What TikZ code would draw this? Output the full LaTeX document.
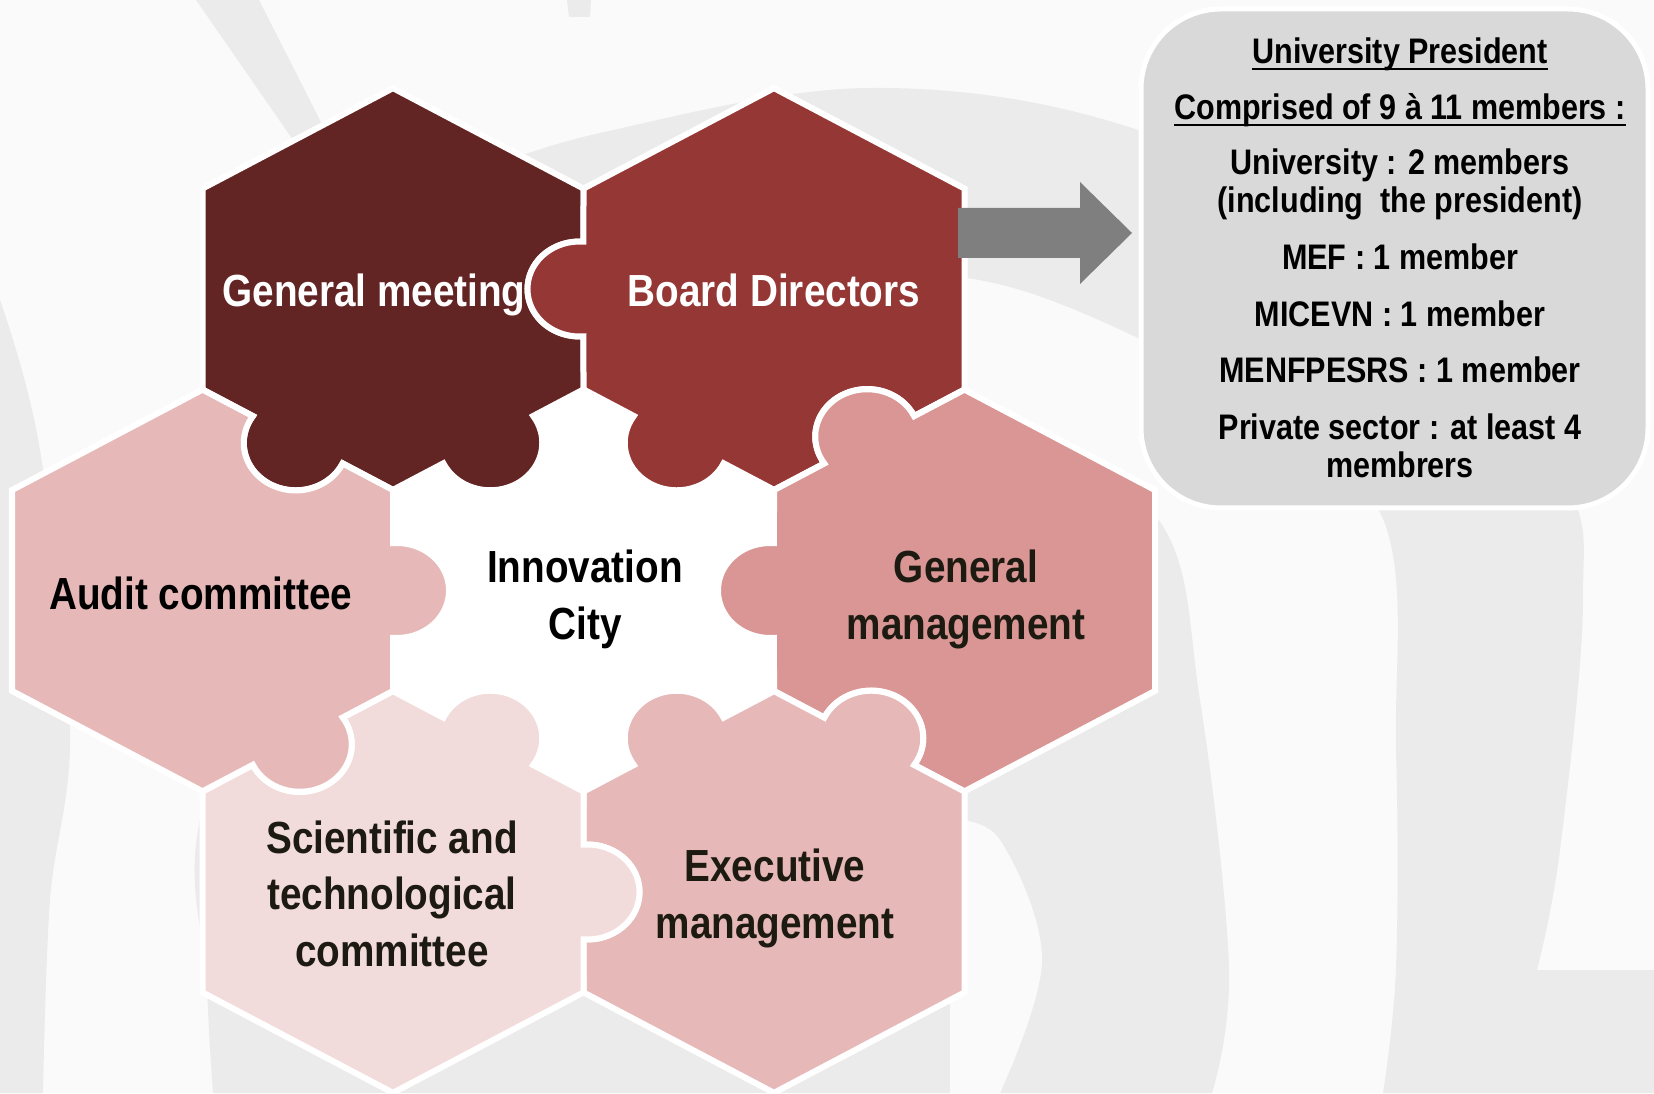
\documentclass[tikz,border=0pt]{standalone}
\usepackage{fontspec}
\setmainfont{Liberation Sans}[FakeStretch=0.86]
\definecolor{gmcol}{HTML}{632523}
\definecolor{bdcol}{HTML}{953735}
\definecolor{mgcol}{HTML}{D99694}
\definecolor{aucol}{HTML}{E6B9B8}
\definecolor{excol}{HTML}{E6B9B8}
\definecolor{sccol}{HTML}{F2DCDB}
\definecolor{boxcol}{HTML}{D9D9D9}
\definecolor{arrowcol}{HTML}{7F7F7F}
\definecolor{bgcol}{HTML}{FAFAFA}
\definecolor{bandcol}{HTML}{EBEBEC}
\definecolor{darktext}{HTML}{1D1B11}
\newsavebox\ulbox
\newcommand\myul[1]{\sbox\ulbox{#1}\rlap{\rule[-6.5pt]{\wd\ulbox}{2pt}}\usebox\ulbox}
\tikzset{
  puzzlepiece/.pic={
    \path[pic actions]
      (330:219.97) -- (-15.22:197.46)
      arc[start angle=-85.59, end angle=-274.41, radius=52]
      -- (30:219.97) -- (90:219.97) -- (150:219.97) -- (210:219.97)
      -- (224.78:197.46)
      arc[start angle=145.59, end angle=334.41, radius=52]
      -- (270:219.97) -- (284.78:197.46)
      arc[start angle=205.59, end angle=394.41, radius=52]
      -- cycle;
  },
  piecestyle/.style={draw=white, line width=6pt, transform shape},
  hexlabel/.style={anchor=base, inner sep=0pt, font=\fontsize{45}{56.5}\selectfont\bfseries},
  boxtext/.style={anchor=base, inner sep=0pt, font=\fontsize{35.5}{38}\selectfont\bfseries, text=black},
  band/.style={fill=bandcol},
}
\begin{document}
\begin{tikzpicture}[x=1pt, y=1pt]
\useasboundingbox (0,0) rectangle (1654,1093);
% background
\fill[bgcol] (0,0) rectangle (1654,1093);
\fill[band] (196,1093) -- (259,1093) -- (330,953) -- (300,943) -- cycle;
\fill[band] (567,1093) -- (591,1093) -- (590,1076) -- (569,1076) -- cycle;
\fill[band] plot[smooth, tension=0.6] coordinates {(470,918) (600,960) (868,1005) (1132,965) (1400,833) (1560,623) (1583,493) (1560,243) (1537,123)}
  -- (1654,123) -- (1654,0) -- (1383,0)
  -- plot[smooth, tension=0.6] coordinates {(1383,0) (1396,125) (1396,343) (1383,574) (1250,693) (1050,793) (900,823) (700,831) (500,803)} -- cycle;
\fill[band] plot[smooth, tension=0.6] coordinates {(213,0) (207,110) (205,293) (350,593) (700,673) (1000,668) (1158,574) (1200,393) (1229,125) (1212,0)} -- cycle;
\fill[bgcol] plot[smooth, tension=0.6] coordinates {(1000,0) (1042,133) (1000,253) (950,273)} -- (950,0) -- cycle;
\fill[band] plot[smooth, tension=0.6] coordinates {(0,793) (40,643) (70,366) (50,193) (43,0)} -- (0,0) -- cycle;
% centre
\begin{scope}[xshift=583.5pt, yshift=502.5pt, yscale=0.913]
  \fill[white] (30:219.97) -- (90:219.97) -- (150:219.97) -- (210:219.97) -- (270:219.97) -- (330:219.97) -- cycle;
\end{scope}
% pieces
\begin{scope}[xshift=393pt, yshift=804pt, yscale=0.913, rotate=0]
  \pic[piecestyle, fill=gmcol] {puzzlepiece};
\end{scope}
\begin{scope}[xshift=774pt, yshift=804pt, yscale=0.913, rotate=-60]
  \pic[piecestyle, fill=bdcol] {puzzlepiece};
\end{scope}
\begin{scope}[xshift=964.5pt, yshift=502.5pt, yscale=0.913, rotate=-120]
  \pic[piecestyle, fill=mgcol] {puzzlepiece};
\end{scope}
\begin{scope}[xshift=774pt, yshift=201pt, yscale=0.913, rotate=180]
  \pic[piecestyle, fill=excol] {puzzlepiece};
\end{scope}
\begin{scope}[xshift=393pt, yshift=201pt, yscale=0.913, rotate=120]
  \pic[piecestyle, fill=sccol] {puzzlepiece};
\end{scope}
\begin{scope}[xshift=202.5pt, yshift=502.5pt, yscale=0.913, rotate=60]
  \pic[piecestyle, fill=aucol] {puzzlepiece};
\end{scope}
% labels
\node[hexlabel, text=white] (gmlabel) at (374,786) {General meeting};
\node[hexlabel, text=white] (bdlabel) at (774,786) {Board Directors};
\node[hexlabel, text=black] (citylabel) at (585,510) {\begin{tabular}[t]{@{}c@{}}Innovation\\City\end{tabular}};
\node[hexlabel, text=black] (auditlabel) at (200.7,483) {Audit committee};
\node[hexlabel, text=darktext] (mgmtlabel) at (966,510) {\begin{tabular}[t]{@{}c@{}}General\\management\end{tabular}};
\node[hexlabel, text=darktext] (execlabel) at (775,211.3) {\begin{tabular}[t]{@{}c@{}}Executive\\management\end{tabular}};
\node[hexlabel, text=darktext] (scilabel) at (392,239.7) {\begin{tabular}[t]{@{}c@{}}Scientific and\\technological\\committee\end{tabular}};
% box
\node[draw=white, line width=5pt, fill=boxcol, rounded corners=80pt, minimum width=507pt, minimum height=499pt, inner sep=0pt] (presbox) at (1394.5,834.5) {};
\node[boxtext] (bt1) at (1400,1029.7) {\myul{University President}};
\node[boxtext] (bt2) at (1400,973) {\myul{Comprised of 9 à 11 members :}};
\node[boxtext] (bt3) at (1400,918) {\begin{tabular}[t]{@{}c@{}}University : 2 members\\(including~ the president)\end{tabular}};
\node[boxtext] (bt4) at (1400,823) {MEF : 1 member};
\node[boxtext] (bt5) at (1400,766) {MICEVN : 1 member};
\node[boxtext] (bt6) at (1400,710) {MENFPESRS : 1 member};
\node[boxtext] (bt7) at (1400,653) {\begin{tabular}[t]{@{}c@{}}Private sector : at least 4\\membrers\end{tabular}};
% arrow
\coordinate (arrowtail) at (958,860);
\coordinate (arrowtip) at (1132,860);
\fill[arrowcol] (arrowtail) ++(0,25) -- ++(122,0) -- ++(0,26) -- (arrowtip) -- ++(-52,-51) -- ++(0,26) -- ++(-122,0) -- cycle;
\end{tikzpicture}
\end{document}
